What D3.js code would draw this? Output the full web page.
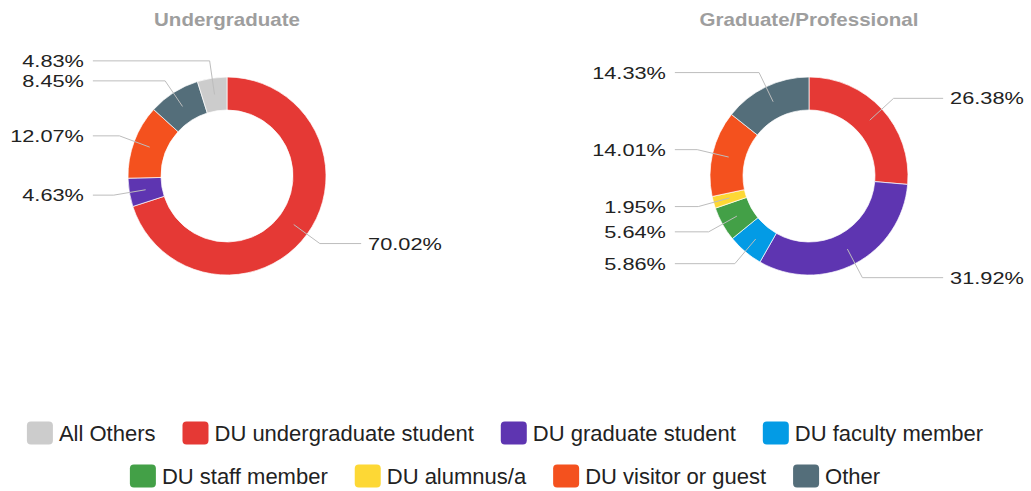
<!DOCTYPE html>
<html>
<head>
<meta charset="utf-8">
<script src="https://cdn.jsdelivr.net/npm/d3@7"></script>
<style>
  body { margin: 0; background: #fff; }
  svg { display: block; }
</style>
</head>
<body>
<div id="chart"></div>
<script>
const width = 1031;
const height = 491;

const categories = ["All Others", "DU undergraduate student", "DU graduate student", "DU faculty member",
    "DU staff member", "DU alumnus/a", "DU visitor or guest", "Other"];
const colors = ["#cccccc", "#e53935", "#5e35b1", "#039be5", "#43a047", "#fdd835", "#f4511e", "#546e7a"];
const chartTitles = ["Undergraduate", "Graduate/Professional"];
// share in percent per category, null = no own slice
const undergradValues = [4.83, 70.02, 4.63, null, null, null, 12.07, 8.45];
const gradValues = [null, 26.38, 31.92, 5.86, 5.64, 1.95, 14.01, 14.33];

// slice order: the real categories first, the grouped "All Others" last
const sliceOrder = [1, 2, 3, 4, 5, 6, 7, 0];

const cy = 176;
const outerR = 99;
const innerR = 66;
const donuts = [
    { title: chartTitles[0], values: undergradValues, cx: 227 },
    { title: chartTitles[1], values: gradValues, cx: 809 }
];

const svg = d3.select("#chart")
    .append("svg")
    .attr("width", width)
    .attr("height", height)
    .attr("viewBox", [0, 0, width, height])
    .style("font-family", "'Liberation Sans', Arial, sans-serif");

const pie = d3.pie().sort(null).value(d => d.value);
const arc = d3.arc().innerRadius(innerR).outerRadius(outerR);

// pushes labels on one side apart so they do not overlap
const spreadLabels = (labels, gap) => {
    labels.sort((a, b) => a.ly - b.ly);
    for (let k = 0; k < 20; k++) {
        for (let i = 1; i < labels.length; i++) {
            const over = labels[i - 1].ly + gap - labels[i].ly;
            if (over > 0) {
                labels[i - 1].ly -= over / 2;
                labels[i].ly += over / 2;
            }
        }
    }
};

donuts.forEach(donut => {
    const data = sliceOrder
        .map(i => ({ name: categories[i], color: colors[i], value: donut.values[i] }))
        .filter(d => d.value != null);
    const arcs = pie(data);
    const cx = donut.cx;

    const g = svg.append("g").attr("transform", `translate(${cx},${cy})`);

    g.selectAll("path")
        .data(arcs)
        .join("path")
        .attr("d", arc)
        .attr("fill", d => d.data.color)
        .attr("stroke", "#fff")
        .attr("stroke-width", 0.7);

    // label geometry
    const midR = (innerR + outerR) / 2;
    const elbowR = outerR * 1.16;
    const labels = arcs.map(a => {
        const m = (a.startAngle + a.endAngle) / 2;
        const sx = midR * Math.sin(m), sy = -midR * Math.cos(m);
        const ex = elbowR * Math.sin(m), ey = -elbowR * Math.cos(m);
        return { a, sx, sy, ex, ly: ey, right: Math.sin(m) >= 0 };
    });
    spreadLabels(labels.filter(d => d.right), 20);
    spreadLabels(labels.filter(d => !d.right), 20);

    const lineEnd = outerR * 1.355;
    g.append("g")
        .selectAll("polyline")
        .data(labels)
        .join("polyline")
        .attr("fill", "none")
        .attr("stroke", "#bdbdbd")
        .attr("stroke-width", 1)
        .attr("points", d => [[d.sx, d.sy], [d.ex, d.ly], [d.right ? lineEnd : -lineEnd, d.ly]].join(" "));

    g.append("g")
        .selectAll("text")
        .data(labels)
        .join("text")
        .attr("transform", d => `translate(${d.right ? outerR * 1.425 : -outerR * 1.445},${d.ly}) scale(1.28,1)`)
        .attr("dy", "0.36em")
        .attr("text-anchor", d => d.right ? "start" : "end")
        .attr("font-size", 17)
        .attr("fill", "#222")
        .text(d => d.a.data.value.toFixed(2) + "%");

    svg.append("text")
        .attr("transform", `translate(${cx},26) scale(1.14,1)`)
        .attr("text-anchor", "middle")
        .attr("font-size", 18)
        .attr("font-weight", "bold")
        .attr("fill", "#9e9e9e")
        .text(donut.title);
});

// legend, wrapped into centred rows
const swatchW = 26, swatchH = 23, textGap = 6, itemGap = 27, maxRowW = 1000;
const rowYs = [433, 476];
const legend = svg.append("g");
const items = categories.map((name, i) => {
    const item = legend.append("g");
    item.append("rect")
        .attr("width", swatchW)
        .attr("height", swatchH)
        .attr("y", -swatchH / 2)
        .attr("rx", 4)
        .attr("fill", colors[i]);
    const t = item.append("text")
        .attr("x", swatchW + textGap)
        .attr("dy", "0.35em")
        .attr("font-size", 22)
        .attr("fill", "#222")
        .text(name);
    return { item, w: swatchW + textGap + t.node().getComputedTextLength() };
});

let rows = [[]];
let rowW = 0;
items.forEach(it => {
    const add = (rows[rows.length - 1].length ? itemGap : 0) + it.w;
    if (rowW + add > maxRowW && rows[rows.length - 1].length) {
        rows.push([]);
        rowW = 0;
    }
    rowW += (rows[rows.length - 1].length ? itemGap : 0) + it.w;
    rows[rows.length - 1].push(it);
});

rows.forEach((row, r) => {
    const total = d3.sum(row, d => d.w) + itemGap * (row.length - 1);
    let x = 505 - total / 2;
    row.forEach(it => {
        it.item.attr("transform", `translate(${x},${rowYs[r]})`);
        x += it.w + itemGap;
    });
});
</script>
</body>
</html>
